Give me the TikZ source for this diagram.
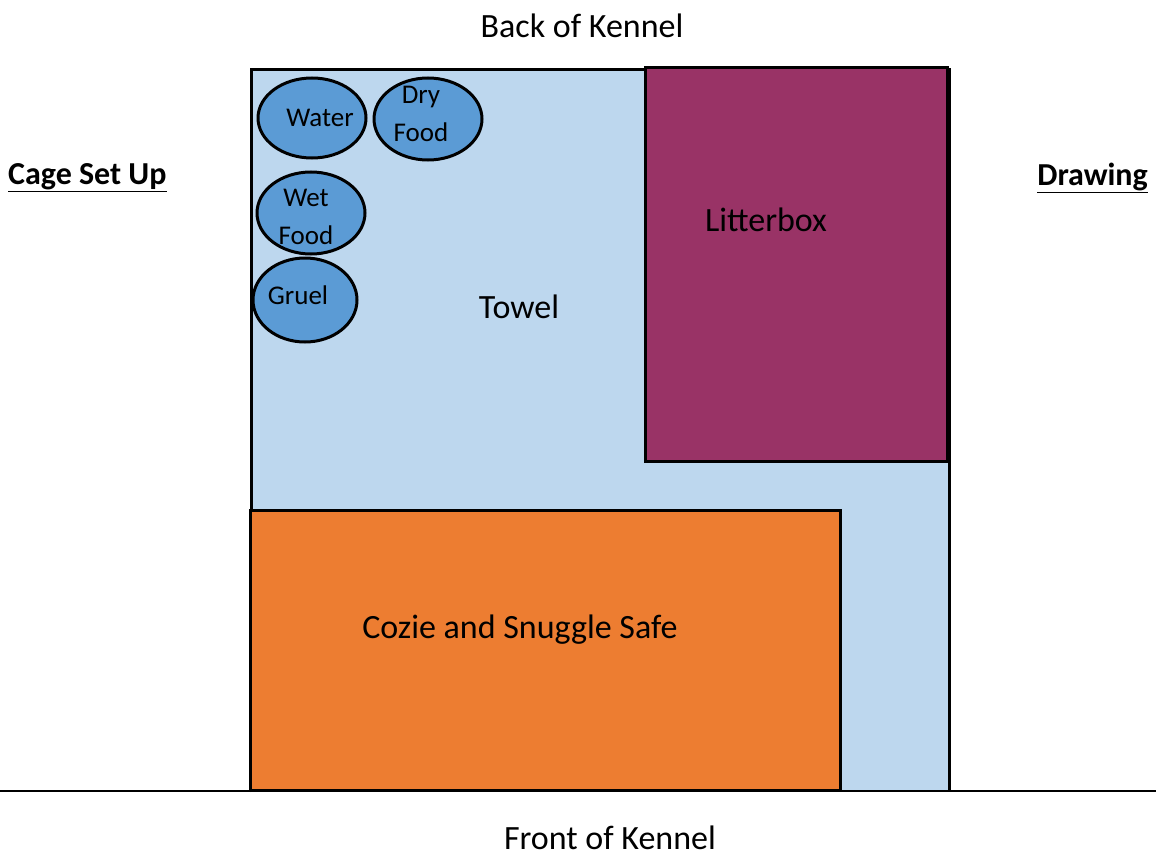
\documentclass[tikz,border=0pt]{standalone}
\usepackage{fontspec}
\setmainfont{Carlito}
\usetikzlibrary{shapes.geometric, positioning}

\definecolor{towelblue}{HTML}{BDD7EE}
\definecolor{litterpurple}{HTML}{993366}
\definecolor{cozieorange}{HTML}{ED7D31}
\definecolor{bowlblue}{HTML}{5B9BD5}

\begin{document}
\begin{tikzpicture}[
    x=1pt, y=-1pt,
    area/.style={draw, rectangle, inner sep=0pt, line width=3pt},
    bowl/.style={draw, ellipse, fill=bowlblue, inner sep=0pt, line width=3pt},
    bowltext/.style={inner sep=0pt, align=center, font=\fontsize{27}{38}\selectfont},
    itemtext/.style={inner sep=0pt, font=\fontsize{34}{40}\selectfont},
    sidetext/.style={inner sep=0pt, font=\fontsize{32}{38}\selectfont\bfseries}
]
\useasboundingbox (0,0) rectangle (1156,856);

% Towel
\node (towel) [rectangle, fill=towelblue, inner sep=0pt, minimum width=697pt, minimum height=722pt] at (600.5,431) {};
\draw [line width=3pt] (towel.south west) -- (towel.north west) -- (towel.north east) -- (towel.south east);
\node (toweltext) [itemtext] at (519,307) {Towel};

% Litterbox
\node (litter) [area, fill=litterpurple, minimum width=302pt, minimum height=393pt] at (796,264.5) {};
\node (littertext) [itemtext] at (766,220) {Litterbox};

% Cozie
\node (cozie) [area, fill=cozieorange, minimum width=590pt, minimum height=280pt] at (545,650) {};
\node (cozietext) [itemtext] at (520,630) {Cozie and Snuggle Safe};

% Bowls
\node (water) [bowl, minimum width=108pt, minimum height=80pt] at (312,118) {};
\node (watertext) [bowltext] at (320,118) {Water};
\node (dry) [bowl, minimum width=108pt, minimum height=82pt] at (428,119) {};
\node (drytext) [bowltext] at (421,114) {Dry\\Food};
\node (wet) [bowl, minimum width=108pt, minimum height=82pt] at (311,213) {};
\node (wettext) [bowltext] at (306,217) {Wet\\Food};
\node (gruel) [bowl, minimum width=104pt, minimum height=84pt] at (305,300) {};
\node (grueltext) [bowltext] at (298,295) {Gruel};

% Labels around
\node (back) [itemtext] at (582,26) {Back of Kennel};
\node (front) [itemtext] at (610,838) {Front of Kennel};
\node (setup) [sidetext, anchor=west] at (8,178) {\underline{Cage Set Up}};
\node (drawing) [sidetext, anchor=east] at (1148,178) {\underline{Drawing}};

% Floor line
\coordinate (floorL) at (0,791);
\coordinate (floorR) at (1156,791);
\draw [line width=1.5pt] (floorL) -- (floorR);
\end{tikzpicture}
\end{document}
